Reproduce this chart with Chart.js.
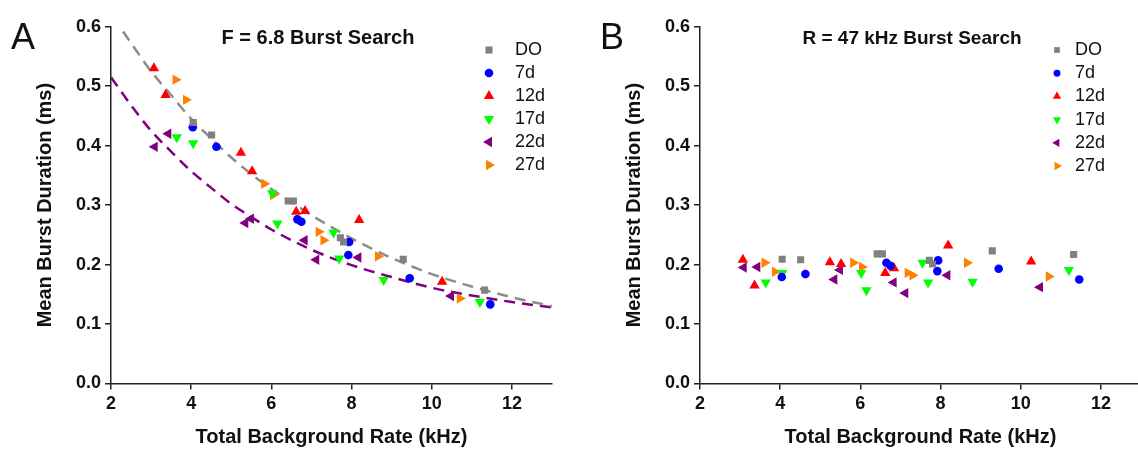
<!DOCTYPE html>
<html>
<head>
<meta charset="utf-8">
<script src="https://cdn.jsdelivr.net/npm/chart.js"></script>
<style>
  html, body { margin: 0; padding: 0; background: #fff; overflow: hidden; }
  body { width: 1138px; height: 461px; position: relative; }
  canvas { position: absolute; top: 0; }
  #panel-a { left: 0; width: 580px; height: 461px; }
  #panel-b { left: 589px; width: 560px; height: 461px; }
</style>
</head>
<body>
<canvas id="panel-a" width="580" height="461"></canvas>
<canvas id="panel-b" width="560" height="461"></canvas>
<script>
// ── Series ────────────────────────────────────────────────────────────────
const seriesNames = ['DO', '7d', '12d', '17d', '22d', '27d'];

// total background rate (kHz), shared by both searches
const rateDO  = [4.05, 4.51, 6.42, 6.55, 7.72, 7.80, 9.29, 11.32];
const rate7d  = [4.04, 4.63, 6.65, 6.75, 7.92, 7.94, 9.45, 11.46];
const rate12d = [3.07, 3.36, 5.24, 5.52, 6.62, 6.84, 8.19, 10.26];
const rate17d = [3.64, 4.05, 6.02, 6.15, 7.55, 7.69, 8.80, 11.20];
const rate22d = [3.09, 3.43, 5.35, 5.49, 6.83, 7.12, 8.17, 10.48];
const rate27d = [3.61, 3.87, 5.82, 6.04, 7.18, 7.30, 8.66, 10.70];

// mean burst duration (ms), F = 6.8 search
const durF_DO  = [0.439, 0.418, 0.307, 0.307, 0.245, 0.238, 0.209, 0.157];
const durF_7d  = [0.431, 0.398, 0.276, 0.272, 0.216, 0.238, 0.177, 0.133];
const durF_12d = [0.530, 0.485, 0.388, 0.357, 0.289, 0.290, 0.275, 0.171];
const durF_17d = [0.414, 0.404, 0.320, 0.269, 0.254, 0.210, 0.174, 0.137];
const durF_22d = [0.398, 0.420, 0.270, 0.277, 0.241, 0.208, 0.212, 0.147];
const durF_27d = [0.511, 0.477, 0.336, 0.317, 0.255, 0.241, 0.214, 0.143];

// mean burst duration (ms), R = 47 kHz search
const durR_DO  = [0.209, 0.208, 0.218, 0.218, 0.207, 0.201, 0.223, 0.217];
const durR_7d  = [0.179, 0.184, 0.203, 0.198, 0.189, 0.207, 0.193, 0.175];
const durR_12d = [0.208, 0.165, 0.204, 0.201, 0.186, 0.194, 0.232, 0.205];
const durR_17d = [0.170, 0.186, 0.186, 0.157, 0.203, 0.170, 0.171, 0.191];
const durR_22d = [0.195, 0.196, 0.175, 0.191, 0.170, 0.152, 0.182, 0.162];
const durR_27d = [0.203, 0.188, 0.203, 0.196, 0.186, 0.182, 0.203, 0.180];

// decay fits shown on the F search panel
const fitRateDO = [2.3, 3.0, 3.5, 4.0, 4.5, 5.0, 5.5, 6.0, 6.5, 7.0, 7.5, 8.0, 8.5, 9.0, 9.5, 10.0, 11.0, 12.0, 13.0];
const fitDurDO  = [0.592, 0.525, 0.485, 0.445, 0.412, 0.380, 0.352, 0.327, 0.305, 0.283, 0.263, 0.244, 0.227, 0.211, 0.197, 0.184, 0.163, 0.145, 0.130];
const fitRate22d = [2.0, 2.5, 3.0, 3.5, 4.0, 4.5, 5.0, 5.5, 6.0, 7.0, 8.0, 9.0, 10.0, 11.0, 12.0, 13.0];
const fitDur22d  = [0.515, 0.468, 0.425, 0.390, 0.357, 0.329, 0.302, 0.280, 0.259, 0.225, 0.199, 0.179, 0.161, 0.148, 0.137, 0.128];

// axis ticks
const rateTicks     = [2, 4, 6, 8, 10, 12];
const durationTicks = [0, 0.1, 0.2, 0.3, 0.4, 0.5, 0.6];

// ── Styles ────────────────────────────────────────────────────────────────
const FONT = "'Liberation Sans', Arial, sans-serif";
const INK  = '#111111';
const AXIS = '#222222';
const SERIES_COLORS = ['#808080', '#0000ff', '#ff0000', '#00ff00', '#800080', '#ff8000'];
const MARKERS = [
    { style: 'rect',     rotation: 0,   radius: 5.0 },
    { style: 'circle',   rotation: 0,   radius: 4.3 },
    { style: 'triangle', rotation: 0,   radius: 6.0 },
    { style: 'triangle', rotation: 180, radius: 6.0 },
    { style: 'triangle', rotation: 270, radius: 6.0 },
    { style: 'triangle', rotation: 90,  radius: 6.0 },
];
const RATES = [rateDO, rate7d, rate12d, rate17d, rate22d, rate27d];

function toPoints(xs, ys) {
    return xs.map((x, k) => ({ x, y: ys[k] }));
}

function markerSets(durations) {
    return seriesNames.map((name, i) => ({
        label: name,
        data: toPoints(RATES[i], durations[i]),
        showLine: false,
        pointStyle: MARKERS[i].style,
        pointRotation: MARKERS[i].rotation,
        pointRadius: MARKERS[i].radius,
        pointHoverRadius: MARKERS[i].radius,
        backgroundColor: SERIES_COLORS[i],
        borderColor: SERIES_COLORS[i],
        pointBorderWidth: 0,
        order: 1,
    }));
}

function fitSet(name, xs, ys, color) {
    return {
        label: name,
        data: toPoints(xs, ys),
        showLine: true,
        pointRadius: 0,
        borderColor: color,
        borderWidth: 2.5,
        borderDash: [11, 7],
        cubicInterpolationMode: 'monotone',
        fill: false,
        order: 5,
    };
}

// ── Plugins: panel letter/heading and the series key ─────────────────────
const panelHeading = {
    id: 'panelHeading',
    afterDraw(chart, args, o) {
        const ctx = chart.ctx;
        ctx.save();
        ctx.fillStyle = INK;
        ctx.textBaseline = 'alphabetic';
        ctx.textAlign = 'left';
        ctx.font = `normal 36px ${FONT}`;
        ctx.fillText(o.letter, o.letterX, o.letterY);
        ctx.textAlign = 'center';
        ctx.font = `bold ${o.titleSize}px ${FONT}`;
        ctx.fillText(o.title, o.titleX, o.titleY);
        ctx.restore();
    },
};

const seriesKey = {
    id: 'seriesKey',
    afterDraw(chart, args, o) {
        const ctx = chart.ctx;
        ctx.save();
        ctx.font = `normal 18px ${FONT}`;
        ctx.textBaseline = 'middle';
        ctx.textAlign = 'left';
        seriesNames.forEach((name, i) => {
            const y = o.rowY + i * o.rowGap;
            ctx.fillStyle = SERIES_COLORS[i];
            Chart.helpers.drawPoint(ctx, {
                pointStyle: MARKERS[i].style,
                rotation: MARKERS[i].rotation,
                radius: MARKERS[i].radius * o.scale,
                borderWidth: 0,
            }, o.markerX, y);
            ctx.fillStyle = INK;
            ctx.fillText(name, o.textX, y);
        });
        ctx.restore();
    },
};

function buildPanel(canvasId, datasets, heading, key, canvasWidth) {
    const tickFont = { family: FONT, size: 18, weight: 'bold' };
    return new Chart(document.getElementById(canvasId), {
        type: 'scatter',
        data: { datasets },
        plugins: [panelHeading, seriesKey],
        options: {
            responsive: false,
            animation: false,
            devicePixelRatio: 1,
            layout: { padding: { left: 0, top: 26.7, right: canvasWidth - 552, bottom: 0 } },
            plugins: {
                legend: { display: false },
                tooltip: { enabled: false },
                panelHeading: heading,
                seriesKey: key,
            },
            scales: {
                x: {
                    type: 'linear', min: 2, max: 13,
                    afterBuildTicks: s => { s.ticks = rateTicks.map(v => ({ value: v })); },
                    afterFit: s => { s.height = 77.5; },
                    border: { display: true, color: AXIS, width: 1.5 },
                    grid: { drawOnChartArea: false, drawTicks: true, tickLength: 6, color: AXIS, lineWidth: 1.5 },
                    ticks: { color: INK, font: tickFont, padding: 4, maxRotation: 0, callback: v => String(v) },
                    title: {
                        display: true, text: 'Total Background Rate (kHz)', color: INK,
                        font: { family: FONT, size: 20, weight: 'bold' },
                        padding: { top: 0, bottom: 12 },
                    },
                },
                y: {
                    type: 'linear', min: 0, max: 0.6,
                    afterBuildTicks: s => { s.ticks = durationTicks.map(v => ({ value: v })); },
                    afterFit: s => { s.width = 111; },
                    border: { display: true, color: AXIS, width: 1.5 },
                    grid: { drawOnChartArea: false, drawTicks: true, tickLength: 6, color: AXIS, lineWidth: 1.5 },
                    ticks: { color: INK, font: tickFont, padding: 4, callback: v => v.toFixed(1) },
                    title: {
                        display: true, text: 'Mean Burst Duration (ms)', color: INK,
                        font: { family: FONT, size: 20, weight: 'bold' },
                        padding: { top: 33, bottom: 0 },
                    },
                },
            },
        },
    });
}

// ── Panel A: fixed-F search, with decay fits ─────────────────────────────
buildPanel('panel-a', [
    ...markerSets([durF_DO, durF_7d, durF_12d, durF_17d, durF_22d, durF_27d]),
    fitSet('DO fit', fitRateDO, fitDurDO, '#8c8c8c'),
    fitSet('22d fit', fitRate22d, fitDur22d, '#800080'),
], {
    letter: 'A', letterX: 11, letterY: 49,
    title: 'F = 6.8 Burst Search', titleX: 318, titleY: 44, titleSize: 20,
}, { markerX: 489, textX: 515, rowY: 50, rowGap: 23, scale: 1 }, 580);

// ── Panel B: fixed-rate search ───────────────────────────────────────────
buildPanel('panel-b', markerSets([durR_DO, durR_7d, durR_12d, durR_17d, durR_22d, durR_27d]), {
    letter: 'B', letterX: 11, letterY: 49,
    title: 'R = 47 kHz Burst Search', titleX: 323, titleY: 44, titleSize: 19,
}, { markerX: 468, textX: 486, rowY: 50, rowGap: 23.2, scale: 0.8 }, 560);
</script>
</body>
</html>
